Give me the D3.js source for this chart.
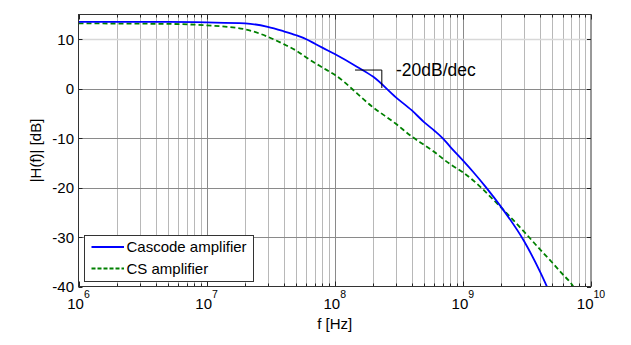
<!DOCTYPE html>
<html><head><meta charset="utf-8">
<script src="https://cdn.jsdelivr.net/npm/d3@7"></script>
<style>body{margin:0;background:#fff}svg{display:block;font-family:"Liberation Sans",Arial,sans-serif}</style>
</head><body><svg id="c" width="631" height="345"></svg>
<script>
// Frequencies (Hz) and magnitudes (dB)
const cascodeF = [1e6,5e6,1e7,2e7,3e7,4e7,5e7,6e7,7e7,8e7,1e8,1.5e8,2e8,3e8,4e8,5e8,6e8,7e8,8e8,1e9,1.2e9,1.5e9,2e9,3e9,4e9,4.6e9];
const cascodeDB = [13.5,13.5,13.4,13.2,12.5,11.6,10.8,10.0,9.1,8.3,7.0,4.4,2.4,-1.75,-4.4,-6.8,-8.5,-10.1,-11.8,-14.5,-16.8,-19.8,-24.0,-30.8,-37.0,-40.4];
const csF = [1e6,5e6,1e7,2e7,3e7,4e7,5e7,6e7,7e7,8e7,1e8,2e8,3e8,4e8,5e8,6e8,7e8,8e8,1e9,2e9,3e9,4e9,5e9,6e9,7e9,7.4e9];
const csDB = [13.2,13.1,12.8,12.0,10.5,9.0,7.7,6.3,5.2,4.3,2.8,-3.8,-7.1,-9.7,-11.4,-12.8,-14.2,-15.3,-16.9,-24.1,-28.9,-32.5,-35.2,-37.5,-39.4,-40.3];
const yTicks = [10,0,-10,-20,-30,-40];
const xDecades = [6,7,8,9,10];
const seriesNames = ["Cascode amplifier","CS amplifier"];
const slopeLabel = "-20dB/dec";
const slopeF = [1.44e8, 2.33e8];
const slopeDB = [3.77, 0.14];

const m = {l:78.5, t:14.5, r:591, b:286.5};
const svg = d3.select("#c");
const x = d3.scaleLog().domain([1e6,1e10]).range([m.l, m.r]);
const y = d3.scaleLinear().domain([-40,15]).range([m.b, m.t]);

svg.append("defs").append("clipPath").attr("id","clip")
  .append("rect").attr("x",m.l).attr("y",m.t).attr("width",m.r-m.l).attr("height",m.b-m.t);

// minor + major x ticks
const allX = [];
for (let d=6; d<10; d++) for (let k=1; k<10; k++) allX.push(k*Math.pow(10,d));
allX.push(1e10);
const g = svg.append("g");
g.selectAll("line.gx").data(allX.filter(v=>v>1e6 && v<1e10)).enter().append("line")
  .attr("x1",d=>Math.round(x(d))+0.5).attr("x2",d=>Math.round(x(d))+0.5)
  .attr("y1",m.t).attr("y2",m.b)
  .attr("stroke",d=>Number.isInteger(Math.log10(d)) ? "#8a8a8a" : "#b8b8b8").attr("stroke-width",1);
g.selectAll("line.gy").data(yTicks.filter(v=>v>-40)).enter().append("line")
  .attr("x1",m.l).attr("x2",m.r)
  .attr("y1",d=>Math.round(y(d))+0.5).attr("y2",d=>Math.round(y(d))+0.5)
  .attr("stroke",d=>d===10 ? "#d8d8d8" : "#8a8a8a").attr("stroke-width",d=>d===10?1.5:1);

// inner tick marks
const tk = svg.append("g").attr("stroke","#222").attr("stroke-width",1);
allX.forEach(v=>{
  const xx = Math.round(x(v))+0.5;
  const L = Number.isInteger(Math.log10(v)) ? 5 : 3;
  tk.append("line").attr("x1",xx).attr("x2",xx).attr("y1",m.t).attr("y2",m.t+L);
  tk.append("line").attr("x1",xx).attr("x2",xx).attr("y1",m.b).attr("y2",m.b-L);
});
yTicks.forEach(v=>{
  const yy = Math.round(y(v))+0.5;
  tk.append("line").attr("x1",m.l).attr("x2",m.l+4).attr("y1",yy).attr("y2",yy);
  tk.append("line").attr("x1",m.r).attr("x2",m.r-4).attr("y1",yy).attr("y2",yy);
});

// curves
const line = d3.line().x((d,i)=>x(d[0])).y(d=>y(d[1])).curve(d3.curveMonotoneX);
const plot = svg.append("g").attr("clip-path","url(#clip)");
plot.append("path").datum(csF.map((f,i)=>[f,csDB[i]])).attr("d",line)
  .attr("fill","none").attr("stroke","#008000").attr("stroke-width",1.8).attr("stroke-dasharray","5,3");
plot.append("path").datum(cascodeF.map((f,i)=>[f,cascodeDB[i]])).attr("d",line)
  .attr("fill","none").attr("stroke","#0000ff").attr("stroke-width",1.8);

// slope annotation
svg.append("path")
  .attr("d",`M${x(slopeF[0])},${y(slopeDB[0])}H${x(slopeF[1])}V${y(slopeDB[1])}`)
  .attr("fill","none").attr("stroke","#000").attr("stroke-width",1);
svg.append("text").attr("x",396).attr("y",76).attr("font-size",17.5).attr("fill","#000").text(slopeLabel);

// axes box
svg.append("rect").attr("x",m.l).attr("y",m.t).attr("width",m.r-m.l).attr("height",m.b-m.t)
  .attr("fill","none").attr("stroke","#333").attr("stroke-width",1);

// y tick labels
svg.selectAll("text.yl").data(yTicks).enter().append("text")
  .attr("x",74).attr("y",d=>y(d)+5.5).attr("text-anchor","end").attr("font-size",15).text(d=>d);

// x tick labels with superscripts
xDecades.forEach(d=>{
  const t = svg.append("text").attr("x",x(Math.pow(10,d))).attr("y",308.5)
    .attr("text-anchor","middle").attr("font-size",15);
  t.append("tspan").text("10");
  t.append("tspan").attr("dy",-11).attr("font-size",10.5).text(d);
});

// axis labels
svg.append("text").attr("x",334.7).attr("y",329).attr("text-anchor","middle").attr("font-size",15).text("f [Hz]");
svg.append("text").attr("transform","translate(41,150.5) rotate(-90)").attr("text-anchor","middle")
  .attr("font-size",15).text("|H(f)| [dB]");

// legend
const lg = svg.append("g");
lg.append("rect").attr("x",84.5).attr("y",235.5).attr("width",169).attr("height",46)
  .attr("fill","#fff").attr("stroke","#333").attr("stroke-width",1);
const styles = [{c:"#0000ff",d:null},{c:"#008000",d:"4,2"}];
seriesNames.forEach((n,i)=>{
  const yy = 247 + i*21.5;
  lg.append("line").attr("x1",91.5).attr("x2",124).attr("y1",yy).attr("y2",yy)
    .attr("stroke",styles[i].c).attr("stroke-width",1.8).attr("stroke-dasharray",styles[i].d);
  lg.append("text").attr("x",126.5).attr("y",yy+5).attr("font-size",15).text(n);
});
</script></body></html>
